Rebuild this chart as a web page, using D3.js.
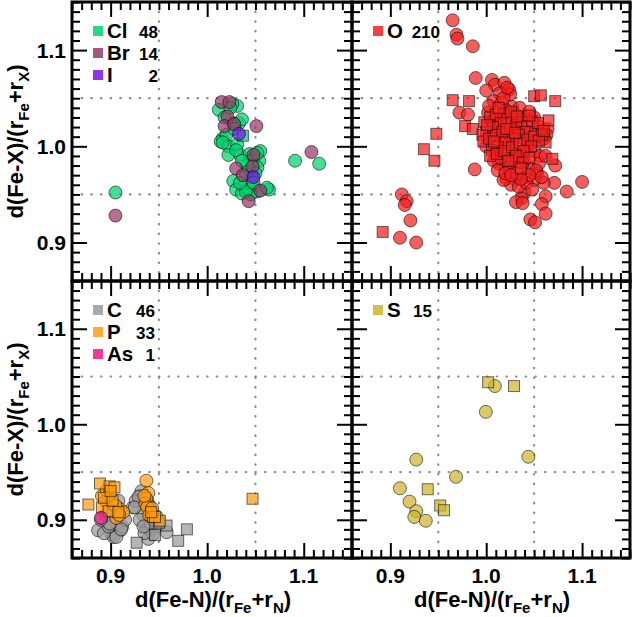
<!DOCTYPE html>
<html>
<head>
<meta charset="utf-8">
<script src="https://cdn.jsdelivr.net/npm/d3@7/dist/d3.min.js"></script>
<style>
  html, body { margin: 0; padding: 0; background: #fff; }
  svg { display: block; }
  text { font-family: "Liberation Sans", Arial, Helvetica, sans-serif; font-weight: bold; fill: #000; }
</style>
</head>
<body>
<svg id="chart" width="632" height="617"></svg>
<script>
// ---------------- DATA ----------------
const elements = ["Cl", "Br", "I", "O", "C", "P", "As", "S"];
const counts   = [48, 14, 2, 210, 46, 33, 1, 15];
const colors   = ["#00d26e", "#983868", "#7a10f0", "#f21e1e", "#9a9a9a", "#ff9c10", "#ec1888", "#cdb431"];

const xTicks = [0.9, 1.0, 1.1];
const yTicks = [0.9, 1.0, 1.1];
const gridValues = [0.95, 1.05];
const axisDomain = [0.86, 1.15];

// Cl (green)
const clCircles = [
  [0.905,0.952],[1.091,0.985],[1.116,0.982],
  [1.012,1.038],[1.031,1.042],[1.026,1.044],[1.027,1.024],[1.033,1.024],[1.016,1.008],[1.014,1.005],
  [1.022,1.000],[1.031,1.002],[1.020,1.012],[1.022,0.991],[1.034,0.991],[1.044,0.992],[1.055,0.995],
  [1.050,0.990],[1.054,0.985],[1.046,0.985],[1.052,0.978],[1.044,0.975],[1.050,0.972],[1.046,0.968],
  [1.040,0.972],[1.027,0.964],[1.038,0.958],[1.030,0.955],[1.036,0.951],[1.042,0.955],[1.048,0.958],
  [1.052,0.953],[1.045,0.950],[1.040,0.953],[1.064,0.955],[1.062,0.957],[1.034,0.962],[1.048,0.962],
  [1.028,1.018],[1.036,1.028],[1.018,1.030],[1.024,1.040],[1.030,0.996],[1.041,0.980],[1.036,0.985],
  [1.052,0.993],[1.016,1.004]
];
const clSquares = [[1.037,1.011]];

// Br (mauve)
const brCircles = [
  [0.905,0.928],[1.108,0.994],[1.051,1.021],[1.015,1.046],[1.023,1.046],[1.021,1.031],[1.018,1.021],
  [1.028,1.023],[1.048,0.991],[1.030,0.977],[1.037,0.970],[1.047,0.979],[1.043,0.943],[1.055,0.954]
];
// I (purple)
const iCircles = [[1.033,1.013],[1.048,0.968]];

// O (red)
const oCircles = [
  [0.965,1.131],[0.969,1.116],[0.970,1.112],[0.986,1.104],[0.989,1.071],[1.006,1.069],[1.009,1.064],
  [1.000,1.058],[1.019,1.066],[1.024,1.059],[1.025,1.054],[1.014,1.055],[1.008,1.047],[1.027,1.041],
  [0.972,1.035],[0.981,1.033],[0.988,0.976],[1.064,1.018],[1.063,1.012],[1.072,0.980],[1.100,0.963],
  [1.084,0.953],[1.071,0.962],[1.060,0.962],[1.053,0.972],[1.062,0.948],[1.058,0.940],[1.062,0.930],
  [1.046,0.924],[1.051,0.921],[1.040,0.952],[1.037,0.946],[1.031,0.942],[1.038,0.941],[1.021,0.966],
  [1.030,0.966],[1.039,0.967],[1.013,0.982],[1.020,0.978],
  [0.912,0.950],[0.917,0.943],[0.915,0.939],[0.921,0.923],[0.910,0.905],[0.927,0.900],
  [1.002,1.035],[1.012,1.028],[1.020,1.038],[1.030,1.034],[1.040,1.030],[1.050,1.030],[1.056,1.020],
  [1.060,1.008],[1.000,1.000],[1.008,0.985],[1.015,0.988],[1.022,0.992],[1.030,0.995],[1.042,0.998],
  [1.050,0.995],[1.056,0.990],[1.012,0.975],[1.025,0.978],[1.032,0.972],[1.044,0.978],[1.050,0.965],
  [1.055,0.982],[1.062,0.990],[1.026,0.960],[1.034,0.958],[1.042,0.962],[1.048,0.955],[1.018,0.965],
  [1.005,1.010],[1.016,1.008],[1.024,1.012],[1.033,1.018],[1.046,1.015],[1.039,1.008],[1.014,1.020],
  [1.028,1.026],[1.003,1.042],[1.016,1.045],[1.035,1.040],[1.045,1.036],[1.023,1.002],[1.036,0.990],
  [1.010,0.995],[1.028,0.985],[1.040,0.985],[1.052,0.975],[1.058,0.968],[1.020,0.972],[1.045,0.970],
  [1.036,0.966],[1.018,1.050],[1.022,1.061],[1.006,1.026],[1.048,1.004],[1.026,0.970]
];
const oSquares = [
  [0.892,0.911],[0.965,1.048],[0.982,1.047],[0.978,1.021],[0.986,1.018],[0.948,1.013],[0.935,0.997],
  [0.946,0.985],[1.050,1.052],[1.057,1.053],[1.072,1.047],[1.065,1.027],[1.062,1.004],[1.069,0.987],
  [0.998,1.025],[1.004,1.030],[1.010,1.033],[1.018,1.034],[1.022,1.028],[1.015,1.024],[1.007,1.020],
  [1.000,1.015],[0.996,1.012],[0.997,1.005],[1.003,1.008],[1.010,1.012],[1.017,1.015],[1.025,1.018],
  [1.031,1.022],[1.037,1.025],[1.043,1.021],[1.048,1.026],[1.054,1.024],[1.040,1.015],[1.034,1.012],
  [1.028,1.008],[1.020,1.004],[1.012,0.999],[1.006,0.996],[1.004,0.990],[1.011,0.992],[1.019,0.995],
  [1.027,0.999],[1.035,1.003],[1.043,1.007],[1.050,1.010],[1.058,1.012],[1.055,1.006],[1.047,1.000],
  [1.039,0.995],[1.031,0.990],[1.023,0.985],[1.038,0.983],[1.045,0.988],[1.060,1.016],[1.026,1.036],
  [1.013,1.040],[1.001,1.022],[1.032,1.031],[1.045,1.032],[1.021,1.018],[1.008,1.005],[1.036,0.977],
  [1.030,1.014]
];

// C (gray)
const cCircles = [
  [0.887,0.889],[0.901,0.885],[0.910,0.889],[0.903,0.882],[0.893,0.886],[0.898,0.893],[0.906,0.897],
  [0.912,0.893],[0.923,0.913],[0.930,0.925],[0.926,0.920],[0.936,0.894],[0.941,0.889],[0.939,0.880],
  [0.944,0.885],[0.949,0.893],[0.958,0.887],[0.934,0.905],[0.940,0.915],[0.932,0.930],[0.945,0.900],
  [0.895,0.905],[0.900,0.910],[0.915,0.900],[0.935,0.886],[0.941,0.897],[0.906,0.882],[0.911,0.890],
  [0.899,0.896],[0.929,0.924],[0.925,0.913],[0.890,0.900],[0.904,0.915],[0.938,0.920],[0.943,0.907],
  [0.896,0.918],[0.908,0.920],[0.930,0.900],[0.948,0.903],[0.934,0.893]
];
const cSquares = [[0.927,0.876],[0.970,0.878],[0.979,0.890],[0.958,0.894],[0.950,0.897],[0.946,0.884]];

// P (orange)
const pCircles = [
  [0.891,0.925],[0.895,0.920],[0.910,0.911],[0.913,0.908],[0.906,0.902],[0.937,0.941],[0.939,0.928],
  [0.937,0.922],[0.936,0.917],[0.941,0.909],[0.938,0.913],[0.940,0.905],[0.898,0.926],[0.905,0.915],
  [0.909,0.905],[0.935,0.925],[0.943,0.912],[0.896,0.931]
];
const pSquares = [
  [0.889,0.938],[0.877,0.916],[0.899,0.935],[0.904,0.934],[0.891,0.913],[0.898,0.909],[0.908,0.908],
  [0.944,0.903],[0.951,0.899],[0.946,0.903],[1.047,0.922],[0.893,0.923],[0.902,0.920],[0.942,0.908],
  [0.900,0.930]
];
// As (pink)
const asCircles = [[0.890,0.902]];

// S (khaki)
const sCircles = [
  [0.927,0.963],[0.9685,0.945],[0.910,0.933],[0.920,0.919],[0.927,0.909],[0.925,0.903],[0.937,0.899],
  [0.9996,1.013],[1.009,1.040],[1.044,0.966]
];
const sSquares = [[1.002,1.044],[1.029,1.040],[0.939,0.932],[0.952,0.915],[0.956,0.910]];

// ---------------- LAYOUT ----------------
const svg = d3.select("#chart");
const colX = [[72, 352], [352, 630]];
const rowY = [[281, 2], [558, 281]];

const panels = [
  { col: 0, row: 0, countX: 158,
    series: [ {el: 0, c: clCircles, s: clSquares}, {el: 1, c: brCircles, s: []}, {el: 2, c: iCircles, s: []} ] },
  { col: 1, row: 0, countX: 440,
    series: [ {el: 3, c: oCircles, s: oSquares} ] },
  { col: 0, row: 1, countX: 155,
    series: [ {el: 4, c: cCircles, s: cSquares}, {el: 5, c: pCircles, s: pSquares}, {el: 6, c: asCircles, s: []} ] },
  { col: 1, row: 1, countX: 432,
    series: [ {el: 7, c: sCircles, s: sSquares} ] }
];

const R = 6.5, SQ = 11;
const minorVals = d3.range(86, 116).map(v => v / 100);

panels.forEach(p => {
  const x = d3.scaleLinear().domain(axisDomain).range(colX[p.col]);
  const y = d3.scaleLinear().domain(axisDomain).range(rowY[p.row]);
  const [x0, x1] = colX[p.col];
  const [y1, y0] = rowY[p.row];
  const g = svg.append("g");

  // dotted grid
  gridValues.forEach(v => {
    g.append("line").attr("x1", x(v)).attr("x2", x(v)).attr("y1", y0).attr("y2", y1)
      .attr("stroke", "#8a8a8a").attr("stroke-width", 2.2).attr("stroke-linecap", "round")
      .attr("stroke-dasharray", "0.5 9.15");
    g.append("line").attr("y1", y(v)).attr("y2", y(v)).attr("x1", x0).attr("x2", x1)
      .attr("stroke", "#8a8a8a").attr("stroke-width", 2.2).attr("stroke-linecap", "round")
      .attr("stroke-dasharray", "0.5 9.15");
  });

  // ticks via d3 axes (inward)
  const addAxis = (gen, tx, ty, vals, size) => {
    const a = g.append("g").attr("transform", `translate(${tx},${ty})`)
      .call(gen.tickValues(vals).tickSize(size).tickFormat(""));
    a.select(".domain").remove();
    a.selectAll(".tick line").attr("stroke", "#000").attr("stroke-width", 2);
  };
  const minor = minorVals.filter(v => !xTicks.some(t => Math.abs(t - v) < 1e-6));
  addAxis(d3.axisBottom(x), 0, y1, minor, -8);
  addAxis(d3.axisBottom(x), 0, y1, xTicks, -15);
  addAxis(d3.axisTop(x), 0, y0, minor, -8);
  addAxis(d3.axisTop(x), 0, y0, xTicks, -15);
  addAxis(d3.axisLeft(y), x0, 0, minor, -8);
  addAxis(d3.axisLeft(y), x0, 0, yTicks, -15);
  addAxis(d3.axisRight(y), x1, 0, minor, -8);
  addAxis(d3.axisRight(y), x1, 0, yTicks, -15);

  // markers
  p.series.forEach(sr => {
    const col = colors[sr.el];
    g.append("g").selectAll("circle").data(sr.c).join("circle")
      .attr("cx", d => x(d[0])).attr("cy", d => y(d[1])).attr("r", R)
      .attr("fill", col).attr("fill-opacity", 0.72)
      .attr("stroke", "#000").attr("stroke-opacity", 0.55).attr("stroke-width", 1);
    g.append("g").selectAll("rect").data(sr.s).join("rect")
      .attr("x", d => x(d[0]) - SQ / 2).attr("y", d => y(d[1]) - SQ / 2)
      .attr("width", SQ).attr("height", SQ)
      .attr("fill", col).attr("fill-opacity", 0.72)
      .attr("stroke", "#000").attr("stroke-opacity", 0.55).attr("stroke-width", 1);
  });

  // frame
  g.append("rect").attr("x", x0).attr("y", y0).attr("width", x1 - x0).attr("height", y1 - y0)
    .attr("fill", "none").attr("stroke", "#000").attr("stroke-width", 3);

  // legend
  p.series.forEach((sr, i) => {
    const cy = y0 + 29 + i * 22;
    g.append("rect").attr("x", x0 + 21).attr("y", cy - 5).attr("width", 10).attr("height", 10)
      .attr("fill", colors[sr.el]).attr("fill-opacity", 0.85);
    g.append("text").attr("x", x0 + 35).attr("y", cy + 7).attr("font-size", 20.5)
      .text(elements[sr.el]);
    g.append("text").attr("x", p.countX).attr("y", cy + 7).attr("font-size", 17)
      .attr("text-anchor", "end").text(counts[sr.el]);
  });

  // tick labels
  if (p.col === 0) {
    yTicks.forEach(t => {
      g.append("text").attr("x", 66).attr("y", y(t) + 7.5).attr("text-anchor", "end")
        .attr("font-size", 21).text(d3.format(".1f")(t));
    });
    const yt = g.append("text").attr("font-size", 22).attr("text-anchor", "middle")
      .attr("transform", `translate(23,${(y0 + y1) / 2}) rotate(-90)`);
    yt.append("tspan").text("d(Fe-X)/(r");
    yt.append("tspan").attr("font-size", 15).attr("dy", 6).text("Fe");
    yt.append("tspan").attr("dy", -6).text("+r");
    yt.append("tspan").attr("font-size", 15).attr("dy", 6).text("X");
    yt.append("tspan").attr("dy", -6).text(")");
  }
  if (p.row === 1) {
    xTicks.forEach(t => {
      g.append("text").attr("x", x(t)).attr("y", 583).attr("text-anchor", "middle")
        .attr("font-size", 21).text(d3.format(".1f")(t));
    });
    const xt = g.append("text").attr("font-size", 22).attr("text-anchor", "middle")
      .attr("x", (x0 + x1) / 2 + 1).attr("y", 607);
    xt.append("tspan").text("d(Fe-N)/(r");
    xt.append("tspan").attr("font-size", 15).attr("dy", 6).text("Fe");
    xt.append("tspan").attr("dy", -6).text("+r");
    xt.append("tspan").attr("font-size", 15).attr("dy", 6).text("N");
    xt.append("tspan").attr("dy", -6).text(")");
  }
});
</script>
</body>
</html>
